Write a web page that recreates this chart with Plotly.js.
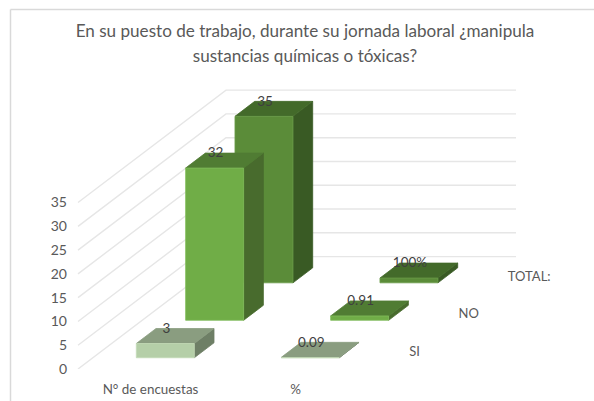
<!DOCTYPE html>
<html>
<head>
<meta charset="utf-8">
<script src="https://cdn.plot.ly/plotly-3.0.1.min.js"></script>
<style>html,body{margin:0;padding:0;background:#fff}#chart{width:594px;height:401px}</style>
</head>
<body>
<div id="chart"></div>
<script>
// ---- data ----
const chartTitle = "En su puesto de trabajo, durante su jornada laboral ¿manipula<br>sustancias químicas o tóxicas?";
const categories = ["N° de encuestas", "%"];
const seriesNames = ["SI", "NO", "TOTAL:"];
const siValues = [3, 0.09];
const noValues = [32, 0.91];
const totalValues = [35, 1];
const siLabels = ["3", "0.09"];
const noLabels = ["32", "0.91"];
const totalLabels = ["35", "100%"];
const yTicks = [0, 5, 10, 15, 20, 25, 30, 35];

// ---- oblique 3D look (pixel geometry of the reference) ----
const W = 594, H = 401;
const pxLeft = 68, pxZeroY = 369.3;       // plot left edge, baseline of value 0
const pxPerCat = 145, pxPerUnit = 4.76;   // axis scales
const originX = 78;                       // pixel of category coordinate 0
const depthDX = 148 / 3, depthDY = 112.5 / 3; // pixel shift per depth row
const gap = 0.3, span = 0.4;              // bar gap and bar size, both directions

const dX = depthDX / pxPerCat, dY = depthDY / pxPerUnit;
const P = (c, v, d) => [c + d * dX, v + d * dY];

const faces = [
  {front: "#B5CFA8", side: "#6E7F66", top: "#8A9D80", edge: "#C3DAB6"},
  {front: "#70AD47", side: "#486B2D", top: "#507C33", edge: "#82BC5C"},
  {front: "#5B8C39", side: "#395A24", top: "#436A2A", edge: "#6A9A49"}
];
const textColor = "#595959";
const labelColor = "#3F3F3F";
const gridColor = "#E6E6E6";
const fontFam = "Lato, Carlito, 'Open Sans', sans-serif";

const traces = [];

// gridlines: left wall then back wall
const gx = [], gy = [];
yTicks.forEach(t => {
  [P(0, t, 0), P(0, t, 3), P(2, t, 3)].forEach(p => { gx.push(p[0]); gy.push(p[1]); });
  gx.push(null); gy.push(null);
});
traces.push({type: "scatter", mode: "lines", x: gx, y: gy, hoverinfo: "skip", showlegend: false,
  line: {color: gridColor, width: 1.4}});

function poly(pts, fill, edge) {
  traces.push({
    type: "scatter", mode: "lines", fill: "toself", fillcolor: fill, hoverinfo: "skip", showlegend: false,
    x: pts.map(p => p[0]).concat(pts[0][0]), y: pts.map(p => p[1]).concat(pts[0][1]),
    line: {color: edge, width: 0.8}
  });
}

// bars: back rows first so the front rows paint over them
const allValues = [siValues, noValues, totalValues];
for (let s = 2; s >= 0; s--) {
  categories.forEach((cat, i) => {
    const v = allValues[s][i], f = faces[s];
    const c0 = i + gap, c1 = i + gap + span, d0 = s + gap, d1 = s + gap + span;
    poly([P(c1, 0, d0), P(c1, 0, d1), P(c1, v, d1), P(c1, v, d0)], f.side, f.side);
    poly([P(c0, v, d0), P(c1, v, d0), P(c1, v, d1), P(c0, v, d1)], f.top, f.top);
    poly([P(c0, 0, d0), P(c1, 0, d0), P(c1, v, d0), P(c0, v, d0)], f.front, f.edge);
  });
}

// data labels
const lx = [], ly = [], lt = [];
const allLabels = [siLabels, noLabels, totalLabels];
for (let s = 2; s >= 0; s--) {
  categories.forEach((cat, i) => {
    const p = P(i + 0.5, allValues[s][i], s + gap);
    lx.push(p[0] + 1 / pxPerCat); ly.push(p[1] + 14 / pxPerUnit); lt.push(allLabels[s][i]);
  });
}
traces.push({type: "scatter", mode: "text", x: lx, y: ly, text: lt, textposition: "middle center",
  cliponaxis: false, hoverinfo: "skip", showlegend: false, textfont: {family: fontFam, size: 13.5, color: labelColor}});

// depth axis labels
const sx = [], sy = [];
seriesNames.forEach((n, s) => {
  const p = P(2 + 16.5 / pxPerCat, 0, s + 0.5);
  sx.push(p[0]); sy.push(p[1] - 2 / pxPerUnit);
});
traces.push({type: "scatter", mode: "text", x: sx, y: sy, text: seriesNames, textposition: "middle right",
  cliponaxis: false, hoverinfo: "skip", showlegend: false, textfont: {family: fontFam, size: 13, color: textColor}});

const plotW = W - pxLeft, plotH = pxZeroY;
const frameX = (10.5 - pxLeft) / plotW, frameY = (pxZeroY - 9.5) / plotH;

const layout = {
  width: W, height: H,
  margin: {l: pxLeft, r: 0, t: 0, b: H - pxZeroY, pad: 0},
  paper_bgcolor: "#fff", plot_bgcolor: "rgba(0,0,0,0)",
  showlegend: false,
  title: {
    text: '<span style="font-size:17.1px">' + chartTitle.replace("<br>", '</span><br><span style="font-size:17.1px">') + '</span>',
    x: 305 / W, xanchor: "center", xref: "container",
    y: 1 - 37 / H, yanchor: "top", yref: "container",
    font: {family: fontFam, size: 19.2, color: textColor}
  },
  xaxis: {
    range: [(pxLeft - originX) / pxPerCat, (W - originX) / pxPerCat],
    tickmode: "array", tickvals: [0.5, 1.5], ticktext: categories,
    showgrid: false, zeroline: false, showline: false,
    ticks: "outside", ticklen: 8, tickcolor: "rgba(0,0,0,0)",
    tickfont: {family: fontFam, size: 13.4, color: textColor}, fixedrange: true
  },
  yaxis: {
    range: [0, plotH / pxPerUnit],
    tickmode: "array", tickvals: yTicks,
    showgrid: false, zeroline: false, showline: false,
    ticks: "", tickfont: {family: fontFam, size: 14, color: textColor}, fixedrange: true
  },
  shapes: [
    {type: "line", xref: "paper", yref: "paper", x0: frameX, x1: frameX, y0: -0.2, y1: frameY, line: {color: "#D9D9D9", width: 1.5}},
    {type: "line", xref: "paper", yref: "paper", x0: frameX, x1: 1.01, y0: frameY, y1: frameY, line: {color: "#D9D9D9", width: 1.5}}
  ]
};
Plotly.newPlot("chart", traces, layout, {displayModeBar: false, staticPlot: true});
</script>
</body>
</html>
